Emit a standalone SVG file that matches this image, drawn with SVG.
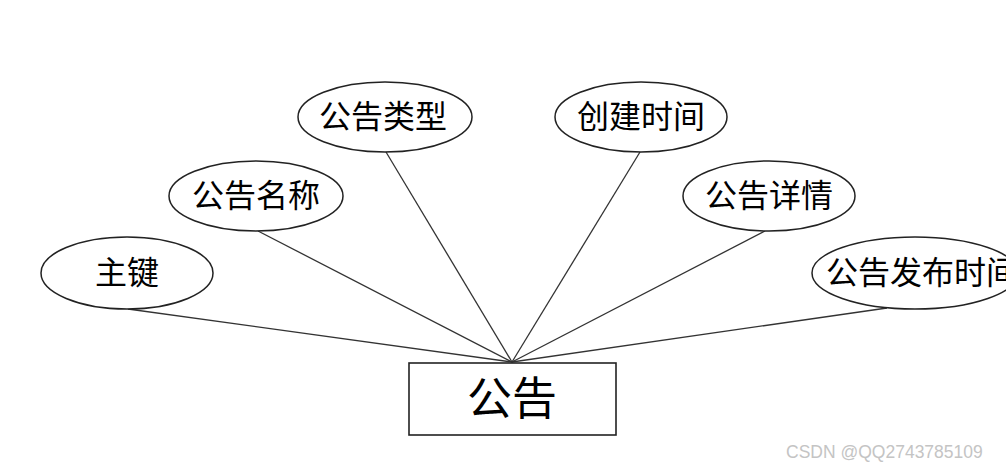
<svg xmlns="http://www.w3.org/2000/svg" width="1006" height="466" viewBox="0 0 1006 466">
<style>
.attr{fill:#fff;stroke:#222;stroke-width:1.5}
.ent{fill:#fff;stroke:#222;stroke-width:1.6}
.t{font-family:"Liberation Sans","Noto Sans CJK SC",sans-serif;font-size:32px;fill:#000;text-anchor:middle;dominant-baseline:central}
.big{font-size:45px}
.conn line{stroke:#333;stroke-width:1.3}
.wm{font-family:"Liberation Sans",sans-serif;font-size:17.5px;fill:#c4c4c4}
</style>
<rect width="1006" height="466" fill="#fff"/>
<g class="conn">
<line x1="128" y1="309" x2="512" y2="362"/>
<line x1="258" y1="231" x2="512" y2="362"/>
<line x1="386" y1="152" x2="512" y2="362"/>
<line x1="640" y1="152" x2="512" y2="362"/>
<line x1="765" y1="231" x2="512" y2="362"/>
<line x1="887" y1="308" x2="512" y2="362"/>
</g>
<g id="n-zhujian"><ellipse class="attr" cx="127" cy="273" rx="86" ry="36"/><text class="t" x="127" y="273">主键</text></g>
<g id="n-mingcheng"><ellipse class="attr" cx="256" cy="196" rx="87" ry="35"/><text class="t" x="256" y="196">公告名称</text></g>
<g id="n-leixing"><ellipse class="attr" cx="385" cy="117" rx="87" ry="35"/><text class="t" x="383" y="117">公告类型</text></g>
<g id="n-chuangjian"><ellipse class="attr" cx="641" cy="117" rx="86" ry="35"/><text class="t" x="641" y="117">创建时间</text></g>
<g id="n-xiangqing"><ellipse class="attr" cx="769" cy="196" rx="86" ry="35"/><text class="t" x="769" y="196">公告详情</text></g>
<g id="n-fabu"><ellipse class="attr" cx="915" cy="273" rx="103" ry="36"/><text class="t" x="922" y="273">公告发布时间</text></g>
<g id="n-gonggao"><rect class="ent" x="409" y="363" width="207" height="72"/><text class="t big" x="512" y="399">公告</text></g>
<text class="wm" x="786" y="458">CSDN @QQ2743785109</text>
</svg>
